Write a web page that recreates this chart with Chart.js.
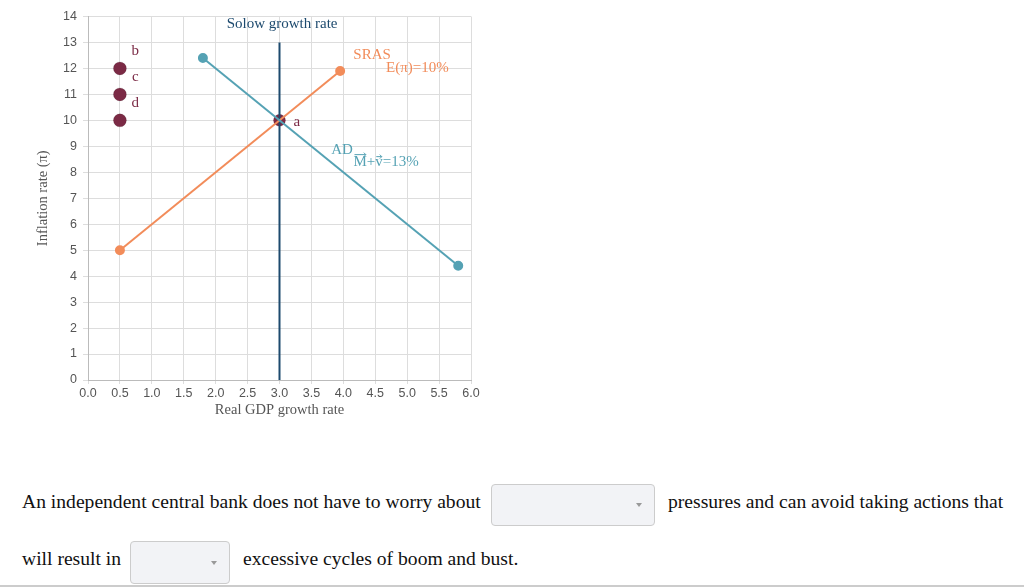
<!DOCTYPE html>
<html>
<head>
<meta charset="utf-8">
<script src="https://cdn.jsdelivr.net/npm/chart.js@4/dist/chart.umd.min.js"></script>
<style>
  body { margin: 0; background: #fff; width: 1024px; height: 587px; overflow: hidden; position: relative; font-family: "Liberation Serif", serif; }
  #wrap { position: absolute; left: 0; top: 3px; width: 490px; height: 425px; }
  .q { position: absolute; font-size: 19.6px; color: #111; white-space: nowrap; }
  .sel { position: absolute; border: 1px solid #ccc; border-radius: 4px; background: #f2f3f6; }
  .sel:after { content: ""; position: absolute; right: 12px; top: 50%; margin-top: -2px; border-left: 3px solid transparent; border-right: 3px solid transparent; border-top: 4px solid #999; }
  #rule { position: absolute; left: 0; top: 585px; width: 1024px; height: 2px; background: #ccc; }
</style>
</head>
<body>
<div id="wrap"><canvas id="chart"></canvas></div>

<div class="q" style="left:22px; top:491px;">An independent central bank does not have to worry about</div>
<div class="sel" style="left:491px; top:484px; width:162px; height:40px;"></div>
<div class="q" style="left:668px; top:491px;">pressures and can avoid taking actions that</div>
<div class="q" style="left:22px; top:548px;">will result in</div>
<div class="sel" style="left:130px; top:541px; width:98px; height:41px;"></div>
<div class="q" style="left:243px; top:548px;">excessive cycles of boom and bust.</div>
<div id="rule"></div>

<script>
// curve endpoints (x = real GDP growth, y = inflation)
const srasX = [0.5, 3.95];
const srasY = [5, 11.9];
const adX = [1.8, 5.8];
const adY = [12.4, 4.4];
const solowX = [3, 3];
const solowY = [0, 13];

// choice points
const choiceX = [0.5, 0.5, 0.5];
const choiceY = [12, 11, 10];
const eqX = [3];
const eqY = [10];

// text labels placed in data coordinates (centre of text)
const labelText = ["b", "c", "d", "a", "Solow growth rate", "SRAS", "E(\u03C0)=10%", "AD", "M+v=13%"];
const labelX = [0.74, 0.74, 0.74, 3.27, 3.04, 4.45, 5.16, 3.98, 4.67];
const labelY = [12.65, 11.65, 10.65, 9.95, 13.72, 12.5, 12.0, 8.87, 8.41];
const labelColor = ["#7b2a45", "#7b2a45", "#7b2a45", "#7b2a45", "#1d4a6e", "#f28c5a", "#f28c5a", "#55a2b4", "#55a2b4"];
// letters in a label that carry a vector arrow
const arrowLetters = { 8: [0, 2] };

const xTicks = [0, 0.5, 1, 1.5, 2, 2.5, 3, 3.5, 4, 4.5, 5, 5.5, 6];
const yTicks = [0, 1, 2, 3, 4, 5, 6, 7, 8, 9, 10, 11, 12, 13, 14];

const ORANGE = "#f28c5a";
const TEAL = "#55a2b4";
const NAVY = "#1d4a6e";
const MAROON = "#7b2a45";

function pts(xs, ys) {
  return xs.map((x, i) => ({ x: x, y: ys[i] }));
}

const labelPlugin = {
  id: "labels",
  afterDatasetsDraw(chart) {
    const c = chart.ctx;
    const xs = chart.scales.x, ys = chart.scales.y;
    c.save();
    c.font = "15px 'Liberation Serif', serif";
    c.textBaseline = "middle";
    c.textAlign = "left";
    labelText.forEach((t, i) => {
      const w = c.measureText(t).width;
      const left = xs.getPixelForValue(labelX[i]) - w / 2;
      const py = ys.getPixelForValue(labelY[i]);
      c.fillStyle = labelColor[i];
      c.fillText(t, left, py);
      (arrowLetters[i] || []).forEach(k => {
        const a = left + c.measureText(t.slice(0, k)).width;
        const b = a + c.measureText(t[k]).width;
        const top = py - (t[k] === "v" ? 5 : 7);
        c.strokeStyle = labelColor[i];
        c.lineWidth = 1;
        c.beginPath();
        c.moveTo(a + 1, top);
        c.lineTo(b - 1, top);
        c.moveTo(b - 3, top - 2);
        c.lineTo(b - 1, top);
        c.lineTo(b - 3, top + 2);
        c.stroke();
      });
    });
    c.restore();
  }
};

new Chart(document.getElementById("chart"), {
  type: "scatter",
  data: {
    datasets: [
      {
        data: pts(eqX, eqY),
        backgroundColor: MAROON,
        pointRadius: 6,
        order: 5
      },
      {
        data: pts(solowX, solowY),
        showLine: true,
        borderColor: NAVY,
        borderWidth: 2,
        pointRadius: 0,
        order: 4
      },
      {
        data: pts(srasX, srasY),
        showLine: true,
        borderColor: ORANGE,
        backgroundColor: ORANGE,
        borderWidth: 2,
        pointRadius: 4,
        order: 3
      },
      {
        data: pts(adX, adY),
        showLine: true,
        borderColor: TEAL,
        backgroundColor: TEAL,
        borderWidth: 2,
        pointRadius: 4,
        order: 2
      },
      {
        data: pts(choiceX, choiceY),
        backgroundColor: MAROON,
        pointRadius: 6.5,
        order: 1
      }
    ]
  },
  options: {
    responsive: true,
    maintainAspectRatio: false,
    animation: false,
    layout: { padding: { left: 34, right: 19, top: 10, bottom: 0 } },
    plugins: { legend: { display: false }, tooltip: { enabled: false } },
    scales: {
      x: {
        type: "linear",
        min: 0,
        max: 6,
        afterBuildTicks: s => { s.ticks = xTicks.map(v => ({ value: v })); },
        afterFit: s => { s.height = 48; },
        ticks: {
          color: "#555",
          font: { family: "'Liberation Sans', sans-serif", size: 12.5 },
          padding: 2,
          callback: v => v.toFixed(1),
          maxRotation: 0
        },
        grid: { color: "#ddd", tickLength: 4 },
        border: { color: "#bbb" },
        title: {
          display: true,
          text: "Real GDP growth rate",
          color: "#555",
          font: { family: "'Liberation Serif', serif", size: 14.5 },
          padding: { top: 0, bottom: 9 }
        }
      },
      y: {
        min: 0,
        max: 14,
        afterBuildTicks: s => { s.ticks = yTicks.map(v => ({ value: v })); },
        afterFit: s => { s.width = 54; },
        ticks: {
          color: "#555",
          font: { family: "'Liberation Sans', sans-serif", size: 12.5 },
          padding: 6
        },
        grid: { color: "#ddd", tickLength: 5 },
        border: { color: "#bbb" },
        title: {
          display: true,
          text: "Inflation rate (\u03C0)",
          color: "#555",
          font: { family: "'Liberation Serif', serif", size: 14.5 },
          padding: { top: 0, bottom: 0 }
        }
      }
    }
  },
  plugins: [labelPlugin]
});
</script>
</body>
</html>
